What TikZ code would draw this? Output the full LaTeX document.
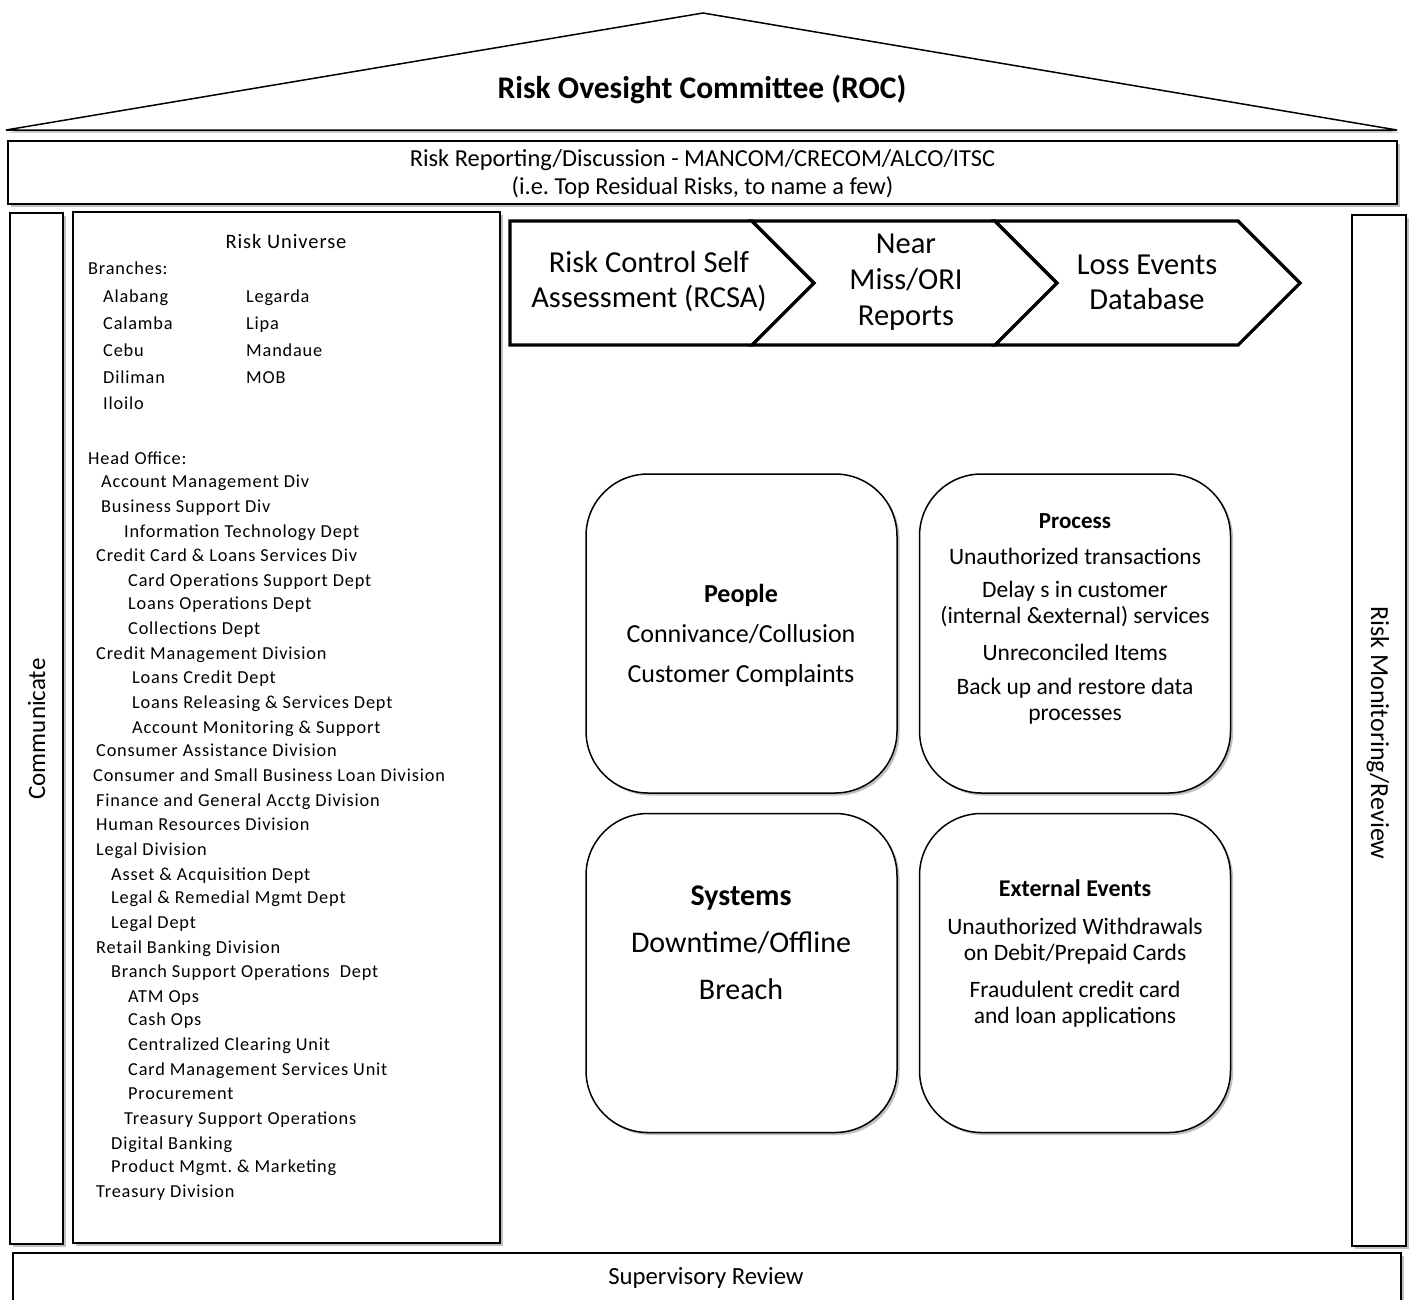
\documentclass[tikz,border=0pt]{standalone}
\usepackage{fontspec}
\setmainfont{Carlito}
\newfontfamily\listfont[LetterSpace=4.5]{Carlito}
\usetikzlibrary{shadows}
\newcommand\fsz[2]{\fontsize{#1}{#2}\selectfont}
\frenchspacing
\begin{document}
\begin{tikzpicture}[x=1pt,y=-1pt,
  shad/.style={drop shadow={shadow xshift=2.5pt,shadow yshift=-2.5pt,opacity=0.35,fill=black!70}},
  frame/.style={draw=black,line width=1.5pt,fill=white,shad,inner sep=0pt},
  chev/.style={draw=black,line width=3.2pt,line join=miter,fill=white},
  rbox/.style={draw=black,line width=1.5pt,rounded corners=62pt,fill=white,shad,
               minimum width=311pt,minimum height=319pt,inner sep=0pt},
  item/.style={anchor=base west,inner sep=0pt,font=\listfont\fsz{18.3}{22}},
  txt/.style={inner sep=0pt,align=center},
]
\useasboundingbox (0,0) rectangle (1410,1299);
\fill[white] (0,0) rectangle (1410,1299);

% roof
\path[draw=black,line width=1.5pt,fill=white,shad,line join=miter] (6,130) -- (703,13) -- (1397,130) -- cycle;
\node[txt,font=\bfseries\fsz{31.5}{34}] (roc) at (702,89) {Risk Ovesight Committee (ROC)};

% top bar
\node[frame,minimum width=1389pt,minimum height=63pt] (bar) at (702.5,172.5) {};
\node[txt,font=\fsz{24.4}{28}] (bartxt) at (702.5,174) {Risk Reporting/Discussion - MANCOM/CRECOM/ALCO/ITSC\\(i.e. Top Residual Risks, to name a few)};

% side columns
\node[frame,minimum width=53pt,minimum height=1031pt] (comm) at (36.5,728.5) {};
\node[inner sep=0pt,rotate=90,font=\fsz{25}{28}] (commtxt) at (36.5,729) {Communicate};
\node[frame,minimum width=54pt,minimum height=1031pt] (mon) at (1379,730.5) {};
\node[inner sep=0pt,rotate=-90,font=\fsz{26}{28}] (montxt) at (1378,733) {Risk Monitoring/Review};

% bottom
\path[draw=black,line width=1.5pt,fill=white,shad] (13,1310) -- (13,1253) -- (1401,1253) -- (1401,1310);
\node[inner sep=0pt,font=\fsz{24.7}{28}] (sup) at (706,1278) {Supervisory Review};

% risk universe box
\node[frame,minimum width=427pt,minimum height=1031pt] (uni) at (286.5,727.5) {};
\node[inner sep=0pt,font=\listfont\fsz{20.5}{24}] (unititle) at (286,241) {Risk Universe};
\node[item] (b0) at (88,274) {Branches:};
\node[item] (b1) at (103,302) {Alabang};
\node[item] (b2) at (103,329) {Calamba};
\node[item] (b3) at (103,356) {Cebu};
\node[item] (b4) at (103,383) {Diliman};
\node[item] (b5) at (103,409) {Iloilo};
\node[item] (b6) at (246,302) {Legarda};
\node[item] (b7) at (246,329) {Lipa};
\node[item] (b8) at (246,356) {Mandaue};
\node[item] (b9) at (246,383) {MOB};
\node[item] (h0) at (88,464) {Head Office:};
\node[item] (h1) at (101,487) {Account Management Div};
\node[item] (h2) at (101,512) {Business Support Div};
\node[item] (h3) at (124,537) {Information Technology Dept};
\node[item] (h4) at (96,561) {Credit Card \& Loans Services Div};
\node[item] (h5) at (128,586) {Card Operations Support Dept};
\node[item] (h6) at (128,609) {Loans Operations Dept};
\node[item] (h7) at (128,634) {Collections Dept};
\node[item] (h8) at (96,659) {Credit Management Division};
\node[item] (h9) at (132,683) {Loans Credit Dept};
\node[item] (h10) at (132,708) {Loans Releasing \& Services Dept};
\node[item] (h11) at (132,733) {Account Monitoring \& Support};
\node[item] (h12) at (96,756) {Consumer Assistance Division};
\node[item] (h13) at (93,781) {Consumer and Small Business Loan Division};
\node[item] (h14) at (96,806) {Finance and General Acctg Division};
\node[item] (h15) at (96,830) {Human Resources Division};
\node[item] (h16) at (96,855) {Legal Division};
\node[item] (h17) at (111,880) {Asset \& Acquisition Dept};
\node[item] (h18) at (111,903) {Legal \& Remedial Mgmt Dept};
\node[item] (h19) at (111,928) {Legal Dept};
\node[item] (h20) at (96,953) {Retail Banking Division};
\node[item] (h21) at (111,977) {Branch Support Operations\ \ Dept};
\node[item] (h22) at (128,1002) {ATM Ops};
\node[item] (h23) at (128,1025) {Cash Ops};
\node[item] (h24) at (128,1050) {Centralized Clearing Unit};
\node[item] (h25) at (128,1075) {Card Management Services Unit};
\node[item] (h26) at (128,1099) {Procurement};
\node[item] (h27) at (124,1124) {Treasury Support Operations};
\node[item] (h28) at (111,1149) {Digital Banking};
\node[item] (h29) at (111,1172) {Product Mgmt. \& Marketing};
\node[item] (h30) at (96,1197) {Treasury Division};

% chevrons
\path[chev] (510,221) -- (752,221) -- (814,283) -- (752,345) -- (510,345) -- cycle;
\path[chev] (752,221) -- (995,221) -- (1057,283) -- (995,345) -- (752,345) -- (814,283) -- cycle;
\path[chev] (995,221) -- (1238,221) -- (1300,283) -- (1238,345) -- (995,345) -- (1057,283) -- cycle;
\node[txt,font=\fsz{30.5}{35}] (c1) at (649,282) {Risk Control Self\\Assessment (RCSA)};
\node[txt,font=\fsz{30.5}{36}] (c2) at (906,282) {Near\\Miss/ORI\\Reports};
\node[txt,font=\fsz{30.5}{35}] (c3) at (1147,282) {Loss Events\\Database};

% category boxes
\node[rbox] (people) at (741.5,633.5) {};
\node[rbox] (process) at (1075,633.5) {};
\node[rbox] (systems) at (741.5,973) {};
\node[rbox] (external) at (1075,973) {};

\node[txt,font=\fsz{26}{40}] (peoplet) at (741,635) {\textbf{People}\\Connivance/Collusion\\Customer Complaints};

\node[txt,font=\bfseries\fsz{23}{26}] (proct) at (1075,521) {Process};
\node[txt,font=\fsz{23.5}{26}] (proc1) at (1075,556) {Unauthorized transactions};
\node[txt,font=\fsz{23.5}{26}] (proc2) at (1075,604) {Delay s in customer\\(internal \&external) services};
\node[txt,font=\fsz{23.5}{26}] (proc3) at (1075,652) {Unreconciled Items};
\node[txt,font=\fsz{23.5}{26}] (proc4) at (1075,701) {Back up and restore data\\processes};

\node[txt,font=\fsz{30}{47}] (syst) at (741,943) {\textbf{Systems}\\Downtime/Offline\\Breach};

\node[txt,font=\bfseries\fsz{24}{26}] (extt) at (1075,888) {External Events};
\node[txt,font=\fsz{23.5}{26}] (ext1) at (1075,941) {Unauthorized Withdrawals\\on Debit/Prepaid Cards};
\node[txt,font=\fsz{23.5}{26}] (ext2) at (1075,1004) {Fraudulent credit card\\and loan applications};
\end{tikzpicture}
\end{document}
